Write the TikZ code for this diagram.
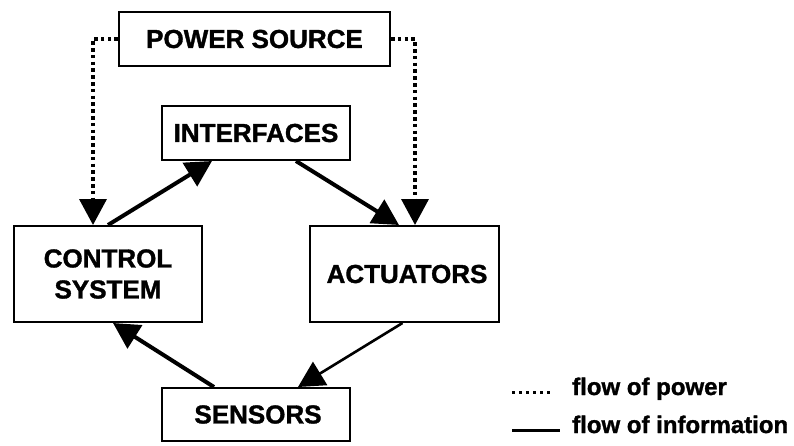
\documentclass[tikz,border=0pt]{standalone}
\usepackage{fontspec}
\setmainfont{Liberation Sans}
\newfontfamily\labelfont[FakeBold=1.3]{Liberation Sans Bold}
\usetikzlibrary{arrows.meta}
\tikzset{
  block/.style={draw, line width=2pt, inner sep=0pt, align=center,
    font=\labelfont\fontsize{26}{31}\selectfont},
  tip/.style={-{Triangle[length=26pt,width=27pt]}},
  info/.style={tip, line width=4pt},
  infothin/.style={tip, line width=2.6pt},
  powerflow/.style={tip, line width=3.6pt, dash pattern=on 3.6pt off 3.2pt},
  legend/.style={anchor=base west, inner sep=0pt, font=\labelfont\fontsize{24}{28}\selectfont}
}
\begin{document}
\begin{tikzpicture}[x=1pt,y=-1pt]
\useasboundingbox (0,0) rectangle (794,445);

% blocks
\node[block, minimum width=271pt, minimum height=54pt] (ps) at (254.5,39) {POWER SOURCE};
\node[block, minimum width=188pt, minimum height=54pt] (ifc) at (256,133) {INTERFACES};
\node[block, minimum width=188pt, minimum height=96pt] (cs) at (108,274) {CONTROL\\SYSTEM};
\node[block, minimum width=189pt, minimum height=96pt] (act) at (404.5,274) {\hspace*{5pt}ACTUATORS};
\node[block, minimum width=188pt, minimum height=53pt] (sen) at (256,414.5) {\hspace*{4pt}SENSORS};

% power distribution
\draw[powerflow] (ps.west) -| ([xshift=80pt]cs.north west);
\draw[powerflow] (ps.east) -| ([xshift=106pt]act.north west);

% information loop
\draw[info] (cs.north) -- ([xshift=51pt]ifc.south west);
\draw[info] ([xshift=-55pt]ifc.south east) -- ([xshift=90pt]act.north west);
\draw[infothin] ([xshift=-2pt]act.south) -- ([xshift=-53pt]sen.north east);
\draw[info] ([xshift=53pt]sen.north west) -- ([xshift=5pt]cs.south);

% legend
\coordinate (lp1) at (512,392);
\coordinate (lp2) at (553,392);
\coordinate (li1) at (512,430);
\coordinate (li2) at (560,430);
\draw[line width=3pt, dash pattern=on 3pt off 4pt] (lp1) -- (lp2);
\draw[line width=3pt] (li1) -- (li2);
\node[legend] (lpow) at (572,395) {flow of power};
\node[legend] (linf) at (572,433) {flow of information};
\end{tikzpicture}
\end{document}
